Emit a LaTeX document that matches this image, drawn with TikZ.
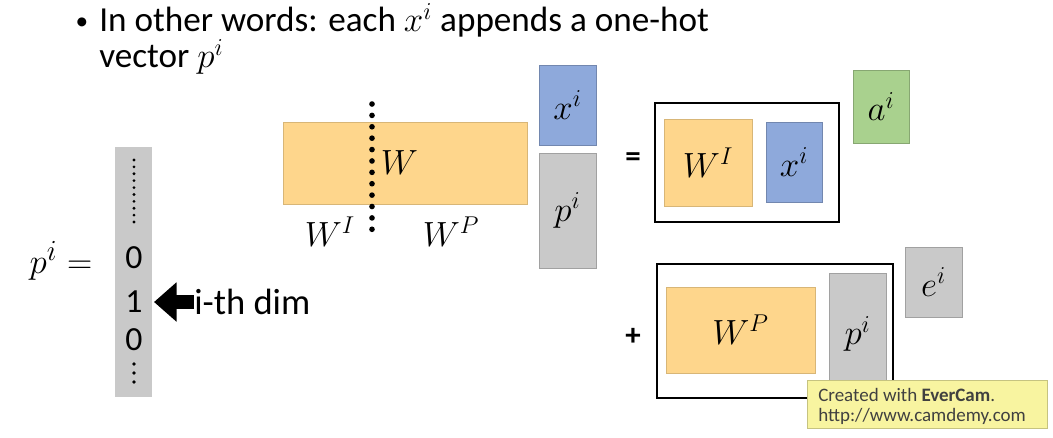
\documentclass[tikz,border=0pt]{standalone}
\usepackage{fontspec}
\setmainfont{Carlito}
\usepackage{xcolor}
\usetikzlibrary{arrows.meta,positioning,calc}
\definecolor{barorange}{RGB}{254,214,140}
\definecolor{vecblue}{RGB}{142,169,219}
\definecolor{vecgray}{RGB}{201,201,201}
\definecolor{vecgreen}{RGB}{169,209,142}
\definecolor{notebg}{RGB}{248,244,160}

\begin{document}
\begin{tikzpicture}[x=0.025cm, y=-0.025cm,
    matbox/.style={rectangle, fill=barorange, draw=barorange!85!black, line width=0.3pt, inner sep=0pt},
    vecbox/.style={rectangle, draw=#1!80!black, fill=#1, line width=0.3pt, inner sep=0pt},
    groupbox/.style={draw, rectangle, line width=2pt, inner sep=0pt},
    lbl/.style={font=\fontsize{25}{29}\selectfont},
    digit/.style={font=\fontsize{24}{26}\selectfont, inner sep=0pt},
    bigarrow/.style={line width=10pt, -{Triangle[width=27pt,length=16pt]}}]
\useasboundingbox (0,0) rectangle (1053,437);

% bullet line
\node[font=\fontsize{18}{20}\selectfont, anchor=center] (bullet) at (82,24) {\textbullet};
\node[font=\fontsize{25}{25.5}\selectfont, anchor=north west, align=left, inner sep=0pt] (intro) at (99,3)
    {In other words: each $x^i$ appends a one-hot\\ vector $p^i$};

% one-hot vector p^i
\node[rectangle, fill=vecgray, minimum width=0.925cm, minimum height=6.25cm, inner sep=0pt] (col) at (133.5,272) {};
\coordinate (dtop) at (134,160);
\coordinate (dbot) at (134,228);
\draw[line width=2.2pt, line cap=round, dash pattern=on 0pt off 4.9pt] (dtop) -- (dbot);
\node[digit] (zeroa) at (134,258) {0};
\node[digit] (one) at (134,302) {1};
\node[digit] (zerob) at (134,340) {0};
\coordinate (vtop) at (134,364);
\coordinate (vbot) at (134,382);
\draw[line width=2.8pt, line cap=round, dash pattern=on 0pt off 6.4pt] (vtop) -- (vbot);
\node[font=\fontsize{29}{32}\selectfont] (peq) at (61,261) {$p^i =$};
\node[font=\fontsize{26}{30}\selectfont, anchor=west, inner sep=0pt] (dim) at (194,302) {i-th dim};
\coordinate (onetip) at (154,302);
\draw[bigarrow] (dim.west) -- (onetip);

% W = [W^I | W^P]
\node[matbox, minimum width=6.1cm, minimum height=2.05cm] (wbar) at (405,163) {};
\coordinate (cuttop) at (372,104);
\coordinate (cutbot) at (372,231);
\draw[line width=4pt, line cap=round, dash pattern=on 0pt off 8.1pt] (cuttop) -- (cutbot);
\node[lbl, anchor=west] (wlab) at (376,163) {$W$};
\node[lbl] (wilab) at (330,232) {$W^I$};
\node[lbl] (wplab) at (451,232) {$W^P$};
\node[vecbox=vecblue, minimum width=1.425cm, minimum height=2cm, lbl] (xtop) at (567.5,105) {$x^i$};
\node[vecbox=vecgray, minimum width=1.425cm, minimum height=2.875cm, lbl] (ptop) at (567.5,210.5) {$p^i$};

% W^I x^i = a^i
\node[font=\fontsize{22}{26}\selectfont\bfseries] (eqs) at (633,160) {=};
\node[groupbox, minimum width=4.6cm, minimum height=2.975cm] (grpa) at (747,162.5) {};
\node[matbox, minimum width=2.2cm, minimum height=2.175cm, lbl] (wi) at (708,162.5) {$W^I$};
\node[vecbox=vecblue, minimum width=1.4cm, minimum height=2cm, lbl] (xmid) at (794,162) {$x^i$};
\node[vecbox=vecgreen, minimum width=1.4cm, minimum height=1.825cm, lbl] (ai) at (881,106.5) {$a^i$};

% W^P p^i = e^i
\node[font=\fontsize{22}{26}\selectfont\bfseries] (plus) at (633,337) {+};
\node[groupbox, minimum width=5.9cm, minimum height=3.35cm] (grpe) at (775,331) {};
\node[matbox, minimum width=3.725cm, minimum height=2.15cm, lbl] (wp) at (740.5,330) {$W^P$};
\node[vecbox=vecgray, minimum width=1.425cm, minimum height=3.05cm, lbl] (pbot) at (857.5,334) {$p^i$};
\node[vecbox=vecgray, minimum width=1.425cm, minimum height=1.75cm, lbl] (ei) at (933.5,282) {$e^i$};

% recorder note
\node[rectangle, fill=notebg, draw=notebg!80!black, line width=0.6pt, minimum width=6cm, minimum height=1.2cm,
      inner sep=0pt] (note) at (927,404) {};
\node[anchor=north west, align=left, inner sep=0pt, font=\fontsize{13.5}{14}\selectfont, text=black!75] (notetxt) at (818,388)
    {Created with \textbf{EverCam}.\\ http://www.camdemy.com};
\end{tikzpicture}
\end{document}
